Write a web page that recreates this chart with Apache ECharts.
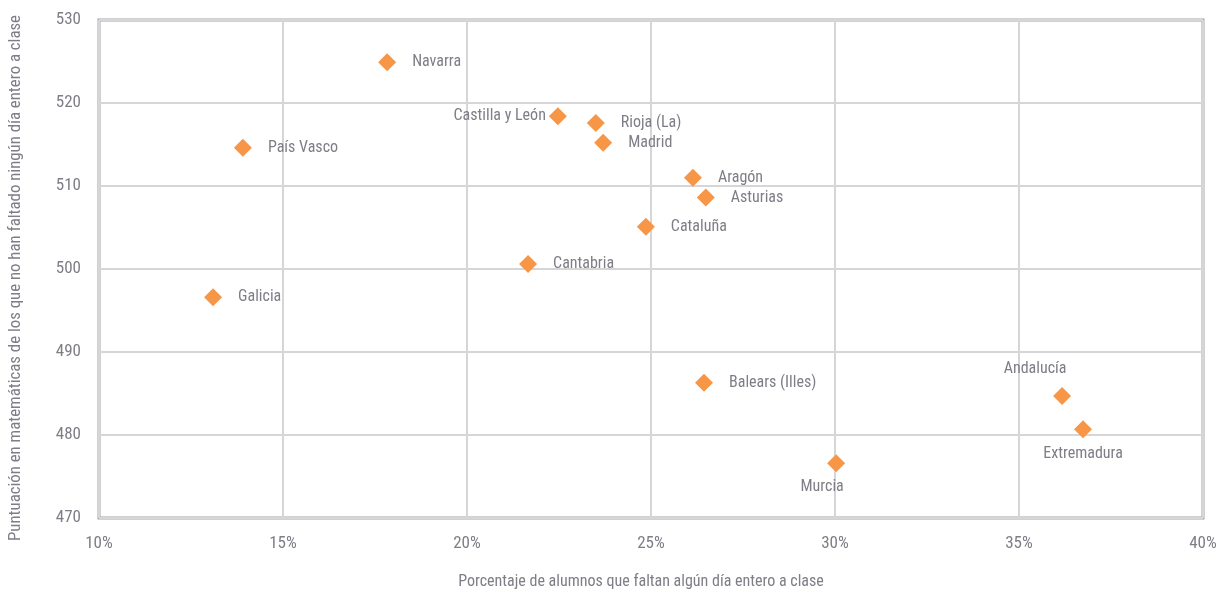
<!DOCTYPE html>
<html>
<head>
<meta charset="utf-8">
<script src="https://cdn.jsdelivr.net/npm/echarts@6/dist/echarts.min.js"></script>
<style>
  html, body { margin: 0; padding: 0; background: #fff; }
  #chart { width: 1227px; height: 589px; }
</style>
</head>
<body>
<div id="chart"></div>
<script>
// comunidades autónomas
var regions = ["Navarra", "País Vasco", "Castilla y León", "Rioja (La)", "Madrid", "Aragón",
  "Asturias", "Cataluña", "Cantabria", "Galicia", "Balears (Illes)", "Andalucía",
  "Extremadura", "Murcia"];
// % alumnos que faltan algún día entero
var pctAbsent = [17.83, 13.91, 22.47, 23.5, 23.7, 26.14, 26.49, 24.86, 21.66, 13.1, 26.44, 36.17, 36.74, 30.03];
// puntuación matemáticas de los que no faltan
var mathScore = [524.9, 514.6, 518.4, 517.6, 515.2, 511.0, 508.6, 505.1, 500.6, 496.6, 486.3, 484.7, 480.7, 476.6];

var xTicks = [10, 15, 20, 25, 30, 35, 40];
var yTicks = [470, 480, 490, 500, 510, 520, 530];

// label placement tweaks (not data)
var labelPos = {
  "Castilla y León": { position: "left", distance: 3 },
  "Andalucía": { position: "top", distance: 10, offset: [-27, 0] },
  "Extremadura": { position: "bottom", distance: 8 },
  "Murcia": { position: "bottom", distance: 7, offset: [-14, 0] }
};

var FONT = "'Roboto Condensed', 'Liberation Sans Narrow', Roboto, sans-serif";
var GREY = "#7d7e86";

var points = regions.map(function (name, i) {
  var p = { name: name, value: [pctAbsent[i], mathScore[i]] };
  if (labelPos[name]) p.label = labelPos[name];
  return p;
});

var chart = echarts.init(document.getElementById("chart"));
chart.setOption({
  animation: false,
  grid: {
    left: 99, right: 24, top: 20, bottom: 71,
    outerBoundsMode: "none",
    containLabel: false,
    show: true, borderColor: "#a3a4a8", borderWidth: 3
  },
  xAxis: {
    type: "value",
    min: xTicks[0], max: xTicks[xTicks.length - 1], interval: 5,
    name: "Porcentaje de alumnos que faltan algún día entero a clase",
    nameLocation: "middle", nameGap: 56,
    nameTextStyle: { fontFamily: FONT, fontSize: 16, color: GREY, padding: [0, 20, 0, 0] },
    axisLine: { show: false },
    axisTick: { show: false },
    axisLabel: { formatter: "{value}%", margin: 17, fontFamily: FONT, fontSize: 17, color: GREY },
    splitLine: { lineStyle: { color: "#d6d6d8", width: 2 } }
  },
  yAxis: {
    type: "value",
    min: yTicks[0], max: yTicks[yTicks.length - 1], interval: 10,
    name: "Puntuación en matemáticas de los que no han faltado ningún día entero a clase",
    nameLocation: "middle", nameGap: 75,
    nameTextStyle: { fontFamily: FONT, fontSize: 16.8, color: GREY, padding: [0, 18, 0, 0] },
    axisLine: { show: false },
    axisTick: { show: false },
    axisLabel: { margin: 18, fontFamily: FONT, fontSize: 17, color: GREY },
    splitLine: { lineStyle: { color: "#d6d6d8", width: 2 } }
  },
  series: [{
    type: "scatter",
    symbol: "diamond",
    symbolSize: 18,
    itemStyle: { color: "#f79646", opacity: 1 },
    label: {
      show: true,
      position: "right",
      distance: 16,
      formatter: "{b}",
      fontFamily: FONT,
      fontSize: 16,
      color: GREY
    },
    data: points
  }]
});
</script>
</body>
</html>
